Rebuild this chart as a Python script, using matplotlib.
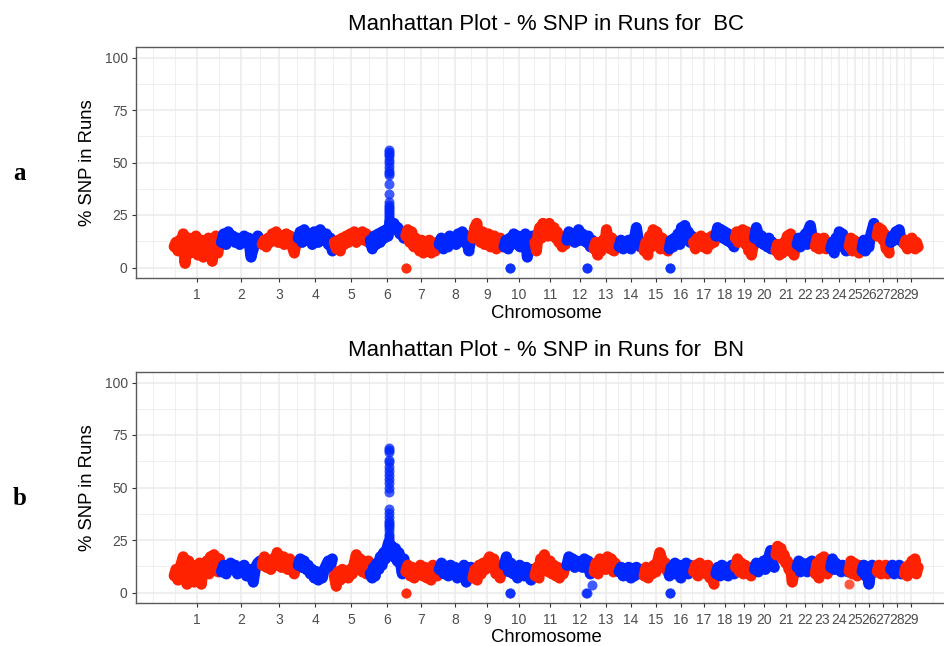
import numpy as np
import matplotlib
matplotlib.use("Agg")
import matplotlib.pyplot as plt

# ---------------- data ----------------
chromosomes = list(range(1, 30))
chrom_length_mb = [158, 137, 121, 121, 121, 119, 112, 113, 105, 104, 107, 91, 84, 84,
                   85, 81, 75, 66, 64, 72, 71, 61, 52, 62, 43, 51, 45, 46, 51]
tick_labels = [str(c) for c in chromosomes]

# % SNP in runs along each chromosome (read left to right), panel a (BC)
bc_values = [
    [10, 12, 8, 13, 9, 16, 2, 11, 14, 7, 12, 9, 15, 6, 11, 13, 5, 10, 8, 14, 12, 3, 9, 15, 7, 11],
    [12, 16, 11, 17, 13, 15, 12, 14, 11, 13, 15, 12, 14, 5, 9, 13, 15, 12],
    [11, 13, 10, 14, 12, 16, 13, 17, 12, 15, 14, 11, 16, 13, 15, 10, 7, 12],
    [14, 17, 12, 18, 15, 13, 16, 11, 17, 14, 12, 18, 15, 13, 16, 11, 14, 8],
    [12, 9, 13, 8, 14, 11, 15, 12, 16, 13, 17, 12, 15, 14, 17, 13, 16, 12],
    [13, 9, 15, 11, 16, 12, 17, 14, 18, 15, 22, 20, 21, 18, 19, 16, 17, 14],
    [15, 18, 12, 17, 10, 14, 11, 8, 13, 7, 12, 9, 13, 7, 11, 8, 12],
    [11, 14, 9, 13, 10, 15, 12, 14, 11, 16, 13, 17, 12, 15, 8, 13],
    [14, 19, 21, 15, 12, 17, 11, 14, 16, 10, 13, 15, 9, 12, 14, 10],
    [10, 13, 9, 14, 11, 16, 12, 15, 10, 14, 12, 16, 5, 11, 13, 15],
    [12, 8, 16, 19, 14, 21, 17, 20, 15, 21, 18, 16, 19, 14, 17, 12, 15, 10, 13, 11],
    [13, 17, 14, 16, 12, 15, 18, 13, 16, 14, 12, 15, 10, 13],
    [9, 12, 6, 11, 8, 13, 10, 18, 12, 9, 14, 8, 11, 10],
    [10, 13, 9, 12, 11, 13, 9, 12, 14, 19, 13, 10, 12],
    [8, 12, 6, 15, 10, 18, 13, 17, 11, 9, 14, 10, 12, 8],
    [9, 13, 10, 14, 12, 16, 11, 19, 15, 20, 14, 17, 12, 15],
    [12, 9, 14, 11, 15, 10, 13, 9, 14, 11, 15, 12],
    [15, 19, 16, 18, 14, 17, 13, 16, 12, 15, 10],
    [14, 17, 12, 16, 13, 18, 15, 11, 17, 8, 12, 6, 10],
    [14, 19, 16, 12, 15, 11, 13, 10, 14, 9, 12, 10],
    [8, 11, 6, 10, 7, 12, 9, 15, 8, 16, 11, 6, 13],
    [11, 14, 10, 13, 12, 16, 11, 18, 20, 15, 12],
    [10, 14, 9, 13, 11, 14, 9, 12, 10],
    [9, 12, 7, 14, 10, 17, 13, 16, 11, 8, 12],
    [10, 14, 8, 13, 9, 12, 7, 11],
    [9, 13, 8, 12, 10, 15, 18, 21, 16],
    [15, 19, 17, 18, 13, 16, 9, 12, 7],
    [12, 15, 13, 17, 14, 18, 13, 12],
    [11, 13, 9, 12, 10, 14, 11, 9, 12, 10],
]
bc_peak_chrom = 6
bc_peak_pos_mb = 67
bc_peak_values = [56, 55, 54, 53, 51, 50, 48, 46, 45, 44, 40, 35, 31, 30, 29, 28,
                  27, 26, 25, 24, 23, 22, 21, 20]
bc_outlier_chrom = [7, 7, 10, 10, 12, 12, 16, 16]
bc_outlier_pos_mb = [4, 4, 23, 23, 69.5, 69.5, 5, 5]
bc_outlier_values = [0, 0, 0, 0, 0, 0, 0, 0]

# panel b (BN)
bn_values = [
    [8, 11, 6, 10, 14, 17, 12, 4, 15, 9, 13, 5, 11, 8, 14, 4, 12, 10, 15, 9, 17, 12, 18, 14, 10, 16],
    [10, 13, 9, 12, 14, 11, 13, 9, 12, 10, 13, 8, 11, 9, 5, 12, 14, 15],
    [13, 17, 12, 15, 11, 16, 13, 19, 14, 12, 17, 15, 11, 16, 13, 9, 12],
    [13, 16, 12, 15, 11, 13, 9, 11, 7, 10, 6, 9, 7, 11, 13, 15, 12, 16],
    [8, 3, 10, 6, 11, 8, 10, 7, 11, 9, 14, 18, 12, 16, 10, 13, 9, 15],
    [9, 7, 12, 8, 14, 11, 17, 13, 19, 16, 21, 24, 20, 22, 17, 21, 15, 19, 14, 9, 16],
    [10, 13, 8, 12, 7, 11, 9, 13, 8, 12, 7, 11, 6, 13, 10, 8],
    [11, 14, 9, 12, 8, 13, 10, 12, 7, 11, 9, 13, 5, 10, 12],
    [7, 11, 6, 13, 9, 14, 11, 15, 17, 12, 16, 9, 13, 7, 11],
    [13, 17, 10, 14, 9, 12, 7, 13, 11, 8, 12, 10, 6, 11],
    [8, 12, 7, 16, 11, 18, 14, 10, 15, 9, 13, 8, 12, 7, 11, 9, 12],
    [13, 17, 14, 16, 12, 15, 13, 14, 12, 16, 13, 15, 9, 12],
    [10, 14, 9, 16, 12, 15, 11, 17, 13, 16, 10, 14, 12],
    [10, 12, 8, 11, 9, 12, 7, 11, 8, 12, 9, 11, 10],
    [8, 12, 7, 11, 9, 13, 10, 15, 19, 16, 12, 14, 10],
    [8, 12, 9, 14, 11, 13, 7, 12, 10, 14, 9, 13, 11],
    [10, 13, 8, 14, 11, 12, 9, 13, 7, 10, 4],
    [9, 12, 8, 13, 10, 12, 8, 11, 13, 9],
    [12, 16, 10, 14, 9, 13, 11, 12, 8, 11],
    [11, 14, 10, 13, 12, 15, 11, 14, 17, 20, 14, 12],
    [18, 22, 20, 21, 16, 18, 14, 15, 11, 13, 5, 9, 12],
    [12, 15, 10, 14, 11, 13, 10, 14, 12, 15, 11],
    [9, 14, 7, 16, 11, 17, 13, 9, 12],
    [12, 16, 11, 14, 13, 12, 10, 13, 11, 12, 10],
    [10, 15, 9, 14, 11, 8, 13, 10],
    [10, 13, 8, 12, 4, 9, 13, 11, 12],
    [10, 13, 9, 12, 10, 13, 9, 11],
    [11, 13, 9, 12, 10, 13, 9, 12],
    [9, 12, 8, 13, 10, 15, 11, 16, 9, 12],
]
bn_peak_chrom = 6
bn_peak_pos_mb = 67
bn_peak_values = [69, 68, 67, 63, 62, 60, 58, 56, 54, 52, 50, 48, 40, 38, 36, 34,
                  33, 32, 31, 30, 28, 27, 26, 25, 24, 23]
bn_outlier_chrom = [7, 7, 10, 10, 12, 12, 12, 16, 16, 25]
bn_outlier_pos_mb = [4, 4, 23, 23, 68, 70.5, 88.6, 5, 5, 1]
bn_outlier_values = [0, 0, 0, 0, 0, 0, 3.5, 0, 0, 4]

panel_names = ["BC", "BN"]
panel_letters = ["a", "b"]

# ---------------- style ----------------
RED = "#FF2200"
BLUE = "#0026FF"
W, H = 945, 646
plt.rcParams['font.family'] = ['Liberation Sans', 'DejaVu Sans']

lengths = np.array(chrom_length_mb, dtype=float)
starts = np.concatenate([[0], np.cumsum(lengths)[:-1]])
total = lengths.sum()
mids = starts + lengths / 2
span = total
xlim = (-0.05 * span, total + 0.05 * span)

# ggplot-like minor breaks
bd = mids[1] - mids[0]
ext = np.concatenate([[mids[0] - bd], mids, [mids[-1] + bd]])
minor_x = np.concatenate([(ext[:-1] + ext[1:]) / 2, ext[[0, -1]]])
minor_x = minor_x[(minor_x > xlim[0]) & (minor_x < xlim[1])]

fig = plt.figure(figsize=(W / 100, H / 100), dpi=100)


def rect(left, top, right, bottom):
    return [left / W, 1 - bottom / H, (right - left) / W, (bottom - top) / H]


panels = [
    dict(values=bc_values, peak_chrom=bc_peak_chrom, peak_pos=bc_peak_pos_mb, peak=bc_peak_values,
         oc=bc_outlier_chrom, op=bc_outlier_pos_mb, ov=bc_outlier_values,
         top=47, bottom=278, title_y=25, xlabel_y=313, letter_y=180),
    dict(values=bn_values, peak_chrom=bn_peak_chrom, peak_pos=bn_peak_pos_mb, peak=bn_peak_values,
         oc=bn_outlier_chrom, op=bn_outlier_pos_mb, ov=bn_outlier_values,
         top=372, bottom=603, title_y=350, xlabel_y=638, letter_y=505),
]

MS = 52      # marker area (pt^2)
LW = 8.0     # band width (pt)

left_px, right_px = 136, 956
for pi, p in enumerate(panels):
    ax = fig.add_axes(rect(left_px, p['top'], right_px, p['bottom']))
    ax.set_xlim(*xlim)
    ax.set_ylim(-5, 105)
    ax.set_axisbelow(True)

    for ci, vals in enumerate(p['values']):
        chrom = chromosomes[ci]
        n = len(vals)
        xs = starts[ci] + (np.arange(n) + 0.5) / n * lengths[ci]
        ys = np.array(vals, dtype=float)
        color = RED if chrom % 2 == 1 else BLUE
        ax.plot(xs, ys, color=color, lw=LW, solid_joinstyle='round',
                solid_capstyle='round', zorder=2 + ci * 0.01)
        ax.scatter(xs, ys, s=MS, color=color, alpha=0.75, linewidths=0,
                   zorder=2.005 + ci * 0.01)
        if chrom == p['peak_chrom']:
            px = np.full(len(p['peak']), starts[ci] + p['peak_pos'])
            ax.scatter(px, p['peak'], s=MS, color=color, alpha=0.75, linewidths=0,
                       zorder=2.005 + ci * 0.01)

    for c, pos, v in zip(p['oc'], p['op'], p['ov']):
        color = RED if c % 2 == 1 else BLUE
        ax.scatter([starts[c - 1] + pos], [v], s=MS, color=color, alpha=0.75,
                   linewidths=0, zorder=3)

    ax.set_xticks(mids)
    ax.set_xticklabels(tick_labels)
    ax.set_xticks(minor_x, minor=True)
    ax.set_yticks([0, 25, 50, 75, 100])
    ax.set_yticks([12.5, 37.5, 62.5, 87.5], minor=True)
    ax.grid(which='major', color='#EBEBEB', linewidth=1.1)
    ax.grid(which='minor', color='#EBEBEB', linewidth=0.55)
    ax.tick_params(which='major', direction='out', length=3, width=0.8, color='#333333',
                   labelcolor='#4D4D4D', labelsize=10)
    ax.tick_params(axis='x', which='major', pad=4)
    ax.tick_params(axis='y', which='major', pad=3)
    ax.tick_params(which='minor', length=0)
    for sp in ax.spines.values():
        sp.set_color('#5A5A5A')
        sp.set_linewidth(1.0)

    cx = (left_px + right_px) / 2
    fig.text(cx / W, 1 - p['title_y'] / H,
             f"Manhattan Plot - % SNP in Runs for  {panel_names[pi]}",
             ha='center', va='center', fontsize=15.9, color='black')
    fig.text(cx / W, 1 - p['xlabel_y'] / H, "Chromosome",
             ha='center', va='center', fontsize=13.3, color='black')
    fig.text(88 / W, 1 - ((p['top'] + p['bottom']) / 2) / H, "% SNP in Runs",
             ha='center', va='center', rotation=90, fontsize=13.3, color='black')
    fig.text(20 / W, 1 - p['letter_y'] / H, panel_letters[pi],
             ha='center', va='baseline', fontsize=18, fontweight='bold',
             family=['Liberation Serif', 'DejaVu Serif'], color='black')

fig.savefig("out.png", dpi=100)
